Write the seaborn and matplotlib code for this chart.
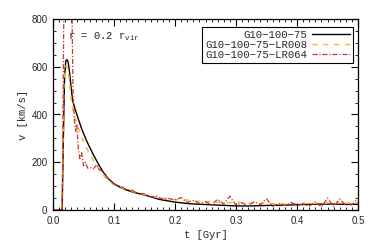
import matplotlib
matplotlib.use("Agg")
import matplotlib.pyplot as plt
from matplotlib.ticker import MultipleLocator, FormatStrFormatter
import seaborn as sns

sns.set_style("ticks")
plt.rcParams["font.family"] = ["Liberation Sans", "DejaVu Sans"]

# ---- data ----
labels = ["G10\u2212100\u221275", "G10\u2212100\u221275\u2212LR008",
          "G10\u2212100\u221275\u2212LR064"]

t_ref = [0.0, 0.015, 0.017, 0.019, 0.021, 0.023, 0.025, 0.027, 0.029, 0.032,
         0.036, 0.041, 0.047, 0.055, 0.066, 0.075, 0.082, 0.09, 0.10, 0.11,
         0.12, 0.135, 0.15, 0.175, 0.2, 0.225, 0.25, 0.275, 0.3, 0.325,
         0.35, 0.375, 0.4, 0.425, 0.45, 0.475, 0.5]
v_ref = [0, 0, 300, 560, 625, 630, 618, 580, 530, 460,
         425, 385, 340, 290, 232, 190, 160, 133, 110, 95,
         84, 72, 63, 44, 33, 26, 23, 20, 17, 17,
         19, 20, 22, 24, 25, 24, 24]

t_lr008 = [0.0, 0.014, 0.016, 0.018, 0.020, 0.022, 0.024, 0.026, 0.028, 0.031,
           0.034, 0.037, 0.040, 0.044, 0.048, 0.052, 0.056, 0.060, 0.065, 0.070,
           0.075, 0.080, 0.085, 0.090, 0.095, 0.100,
           0.11, 0.12, 0.13, 0.14, 0.15, 0.16, 0.17, 0.18, 0.19, 0.20,
           0.21, 0.22, 0.23, 0.24, 0.25, 0.26, 0.27, 0.28, 0.29, 0.30,
           0.31, 0.32, 0.33, 0.34, 0.35, 0.36, 0.37, 0.38, 0.39, 0.40,
           0.41, 0.42, 0.43, 0.44, 0.45, 0.46, 0.47, 0.48, 0.49, 0.50]
v_lr008 = [0, 0, 200, 520, 600, 605, 590, 560, 510, 440,
           405, 380, 355, 325, 300, 275, 255, 235, 213, 192,
           172, 152, 138, 125, 115, 106,
           95, 86, 78, 70, 65, 58, 54, 50, 45, 44,
           40, 42, 36, 38, 34, 36, 32, 34, 30, 33,
           30, 28, 31, 27, 30, 26, 29, 25, 28, 26,
           29, 25, 28, 26, 30, 27, 31, 28, 32, 30]

t_lr064 = [0.0, 0.015, 0.017, 0.019, 0.022, 0.026, 0.029, 0.031, 0.033, 0.035,
           0.037, 0.039, 0.0415, 0.044, 0.047, 0.050, 0.053, 0.057, 0.061, 0.066,
           0.072, 0.076, 0.080, 0.085, 0.091, 0.096, 0.100,
           0.11, 0.12, 0.13, 0.14, 0.15, 0.16, 0.17, 0.18, 0.19, 0.20,
           0.21, 0.22, 0.23, 0.24, 0.25, 0.26, 0.27, 0.28, 0.29, 0.30,
           0.31, 0.32, 0.33, 0.34, 0.35, 0.36, 0.37, 0.38, 0.39, 0.40,
           0.41, 0.42, 0.43, 0.44, 0.45, 0.46, 0.47, 0.48, 0.49, 0.50]
v_lr064 = [0, 0, 600, 1200, 1400, 1300, 1100, 850, 470, 380,
           330, 360, 260, 215, 240, 185, 200, 175, 178, 172,
           190, 168, 164, 150, 130, 118, 108,
           100, 88, 82, 70, 68, 55, 58, 45, 48, 42,
           52, 32, 40, 28, 35, 22, 45, 25, 58, 20,
           30, 18, 35, 22, 47, 15, 28, 18, 32, 20,
           26, 15, 35, 12, 50, 14, 46, 20, 22, 50]

fig = plt.figure(figsize=(3.74, 2.45), dpi=100)
ax = fig.add_axes([53 / 374, 35 / 245, 305 / 374, 191 / 245])

sns.lineplot(x=t_ref, y=v_ref, color="black", linewidth=1.0,
             label=labels[0], ax=ax, errorbar=None)
sns.lineplot(x=t_lr008, y=v_lr008, color="#ffb020", linewidth=1.0,
             linestyle=(0, (3.6, 4.2)),
             label=labels[1], ax=ax, errorbar=None)
sns.lineplot(x=t_lr064, y=v_lr064, color="#cc3333", linewidth=0.9,
             linestyle=(0, (4, 1.5, 1, 1.5)),
             label=labels[2], ax=ax, errorbar=None)

ax.set_xlim(0, 0.5)
ax.set_ylim(0, 800)
ax.xaxis.set_major_locator(MultipleLocator(0.1))
ax.xaxis.set_minor_locator(MultipleLocator(0.01))
ax.xaxis.set_major_formatter(FormatStrFormatter("%.1f"))
ax.yaxis.set_major_locator(MultipleLocator(200))
ax.yaxis.set_minor_locator(MultipleLocator(50))
ax.tick_params(which="both", direction="in", top=True, right=True,
               color="black", labelsize=7, pad=4)
ax.tick_params(which="major", length=5, width=0.8)
ax.tick_params(which="minor", length=2.5, width=0.6)
for s in ax.spines.values():
    s.set_color("black")
    s.set_linewidth(0.9)

mono = "Liberation Mono"
ax.set_xlabel("t [Gyr]", family=mono, fontsize=7.6, labelpad=3)
ax.set_ylabel("v [km/s]", family=mono, fontsize=7.6, labelpad=2)
ax.text(0.05, 0.895, r"r = 0.2 r$_{\mathregular{vir}}$", transform=ax.transAxes,
        family=mono, fontsize=7.6, va="baseline", ha="left")

leg = ax.legend(loc="upper right", bbox_to_anchor=(0.985, 0.96),
                borderaxespad=0, markerfirst=False, frameon=True,
                fancybox=False, framealpha=1, edgecolor="black",
                prop={"family": mono, "size": 7.7}, handlelength=3.6,
                handletextpad=0.4, labelspacing=0.0, borderpad=0.3)
leg.get_frame().set_linewidth(0.8)

fig.savefig("out.png", dpi=100)
